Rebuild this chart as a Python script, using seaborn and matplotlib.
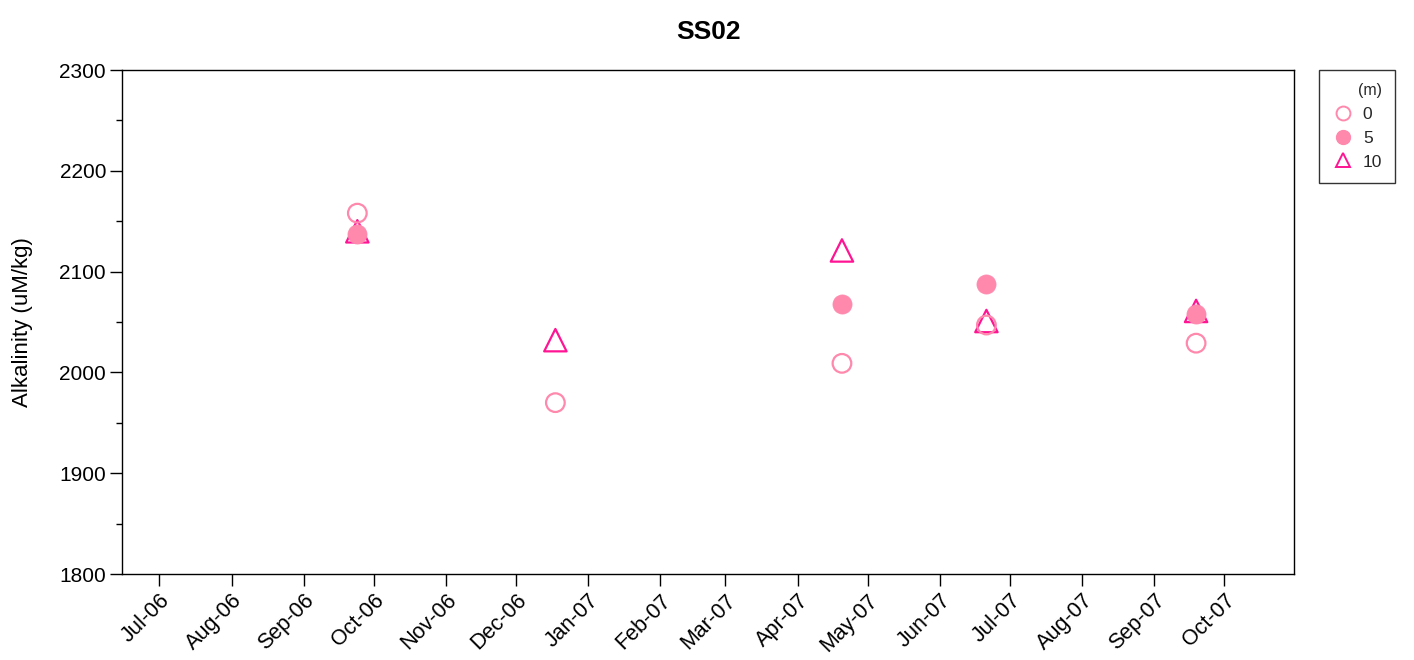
import matplotlib
matplotlib.use("Agg")
import matplotlib.pyplot as plt
import matplotlib.dates as mdates
from matplotlib.lines import Line2D
from matplotlib.ticker import MultipleLocator
import pandas as pd
import seaborn as sns

# Sampling dates and alkalinity (uM/kg) by depth
dates_0m = ["2006-09-24", "2006-12-18", "2007-04-20", "2007-06-21", "2007-09-19"]
alk_0m = [2158, 1970, 2009, 2047, 2029]

dates_5m = ["2006-09-24", "2007-04-20", "2007-06-21", "2007-09-19"]
alk_5m = [2137, 2068, 2088, 2058]

dates_10m = ["2006-09-24", "2006-12-18", "2007-04-20", "2007-06-21", "2007-09-19"]
alk_10m = [2140, 2032, 2121, 2051, 2061]

depth_labels = ["0", "5", "10"]
title = "SS02"
ylabel = "Alkalinity (uM/kg)"

sns.set_theme(style="white")
plt.rcParams["font.family"] = ["Liberation Sans", "DejaVu Sans"]

PINK = "#ff88ad"
DEEP = "#ff1493"

df0 = pd.DataFrame({"date": pd.to_datetime(dates_0m), "alk": alk_0m})
df5 = pd.DataFrame({"date": pd.to_datetime(dates_5m), "alk": alk_5m})
df10 = pd.DataFrame({"date": pd.to_datetime(dates_10m), "alk": alk_10m})

fig = plt.figure(figsize=(14.14, 6.6), dpi=100)
ax = fig.add_axes([0.0863, 0.1303, 0.8288, 0.7636])

sns.scatterplot(data=df10, x="date", y="alk", ax=ax, marker="^", s=260,
                facecolors="none", edgecolor=DEEP, linewidth=1.6, zorder=3)
sns.scatterplot(data=df0, x="date", y="alk", ax=ax, marker="o", s=180,
                facecolors="none", edgecolor=PINK, linewidth=1.6, zorder=3)
sns.scatterplot(data=df5, x="date", y="alk", ax=ax, marker="o", s=190,
                color=PINK, edgecolor=PINK, linewidth=0.5, zorder=4)

ax.set_xlim(pd.Timestamp("2006-06-15"), pd.Timestamp("2007-10-31"))
ax.set_ylim(1800, 2300)
ax.yaxis.set_major_locator(MultipleLocator(100))
ax.yaxis.set_minor_locator(MultipleLocator(50))
ax.xaxis.set_major_locator(mdates.MonthLocator())
ax.xaxis.set_major_formatter(mdates.DateFormatter("%b-%y"))

for sp in ax.spines.values():
    sp.set_color("black")
    sp.set_linewidth(1.0)

ax.tick_params(axis="both", which="major", direction="out", length=8.5, width=1.0,
               color="black", labelsize=15, labelcolor="black", pad=3)
ax.tick_params(axis="x", which="major", labelsize=15.5)
ax.tick_params(axis="y", which="minor", direction="out", length=4.5, width=1.0,
               color="black", left=True)
ax.tick_params(bottom=True, left=True, top=False, right=False)
plt.setp(ax.get_xticklabels(), rotation=45, ha="right", rotation_mode="anchor")

ax.set_xlabel("")
ax.set_ylabel(ylabel, fontsize=16, labelpad=19, color="black")
ax.set_title(title, fontsize=19, fontweight="bold", pad=22, color="black")

handles = [
    Line2D([], [], marker="o", linestyle="none", markersize=10, markerfacecolor="none",
           markeredgecolor=PINK, markeredgewidth=1.4),
    Line2D([], [], marker="o", linestyle="none", markersize=10, markerfacecolor=PINK,
           markeredgecolor=PINK),
    Line2D([], [], marker="^", linestyle="none", markersize=10.5, markerfacecolor="none",
           markeredgecolor=DEEP, markeredgewidth=1.4),
]
leg = ax.legend(handles, depth_labels, title="(m)", loc="upper left",
                bbox_to_anchor=(1.021, 1.0), frameon=True, fancybox=False,
                fontsize=12.5, title_fontsize=11.5, handletextpad=0.5,
                borderpad=0.75, labelspacing=0.5, handlelength=1.3,
                borderaxespad=0)
leg.get_frame().set_edgecolor("black")
leg.get_frame().set_linewidth(1.0)
leg._legend_box.align = "right"

fig.savefig("out.png", dpi=100)
